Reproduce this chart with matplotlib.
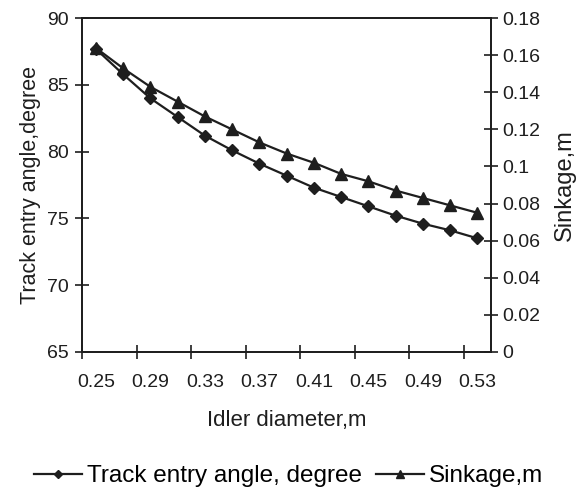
import numpy as np
import matplotlib
matplotlib.use("Agg")
import matplotlib.pyplot as plt
from matplotlib.ticker import FixedLocator, FuncFormatter

plt.rcParams['font.family'] = ['Liberation Sans', 'DejaVu Sans']

# idler diameter categories (m)
diameters = [0.25, 0.27, 0.29, 0.31, 0.33, 0.35, 0.37, 0.39,
             0.41, 0.43, 0.45, 0.47, 0.49, 0.51, 0.53]
# track entry angle, degree (left axis)
entry_angle = [87.7, 85.8, 84.0, 82.6, 81.2, 80.1, 79.1, 78.2,
               77.3, 76.6, 75.9, 75.2, 74.6, 74.1, 73.5]
# sinkage, m (right axis)
sinkage = [0.164, 0.153, 0.143, 0.135, 0.127, 0.120, 0.113, 0.107,
           0.102, 0.096, 0.092, 0.087, 0.083, 0.079, 0.075]

ink = '#1e1e1e'
fs = 14

fig = plt.figure(figsize=(5.77, 4.95), dpi=100)
ax = fig.add_axes([0.1426, 0.2895, 0.851 - 0.1426, 0.963 - 0.2895])
ax2 = ax.twinx()

x = np.arange(len(diameters))
l1, = ax.plot(x, entry_angle, color=ink, lw=1.6, marker='D', ms=6.5,
              label='Track entry angle, degree')
l2, = ax2.plot(x, sinkage, color=ink, lw=1.6, marker='^', ms=9,
               label='Sinkage,m')

ax.set_xlim(-0.5, len(diameters) - 0.5)
ax.set_ylim(65, 90)
ax2.set_ylim(0, 0.18)
ax.set_yticks(np.arange(65, 91, 5))
ax2.set_yticks(np.arange(0, 0.181, 0.02))
ax2.yaxis.set_major_formatter(FuncFormatter(lambda v, p: f"{round(v, 2):g}"))

# category labels every second point, tick marks on the category borders
ax.set_xticks(x[::2])
ax.set_xticklabels([f"{d:.2f}" for d in diameters[::2]])
ax.xaxis.set_minor_locator(FixedLocator(np.arange(-0.5, len(diameters) - 1, 2)))
ax.tick_params(axis='x', which='major', length=0, pad=16, labelsize=fs, colors=ink)
ax.tick_params(axis='x', which='minor', direction='inout', length=10, width=1.2, color=ink)
ax.tick_params(axis='y', direction='inout', length=10, width=1.2, labelsize=fs,
               colors=ink, pad=5)
ax2.tick_params(axis='y', direction='inout', length=10, width=1.2, labelsize=fs,
                colors=ink, pad=3)

for a in (ax, ax2):
    for s in a.spines.values():
        s.set_color(ink)
        s.set_linewidth(1.3)

ax.set_xlabel('Idler diameter,m', fontsize=16, color=ink, labelpad=14)
ax.set_ylabel('Track entry angle,degree', fontsize=15.5, color=ink, labelpad=4)
ax2.set_ylabel('Sinkage,m', fontsize=17, color=ink, labelpad=10)

fig.legend(handles=[l1, l2], loc='center', bbox_to_anchor=(0.5, 0.038), ncol=2,
           frameon=False, fontsize=17.5, handlelength=2.0, handletextpad=0.2,
           columnspacing=0.55, markerscale=0.7)

fig.savefig('out.png', dpi=100)
